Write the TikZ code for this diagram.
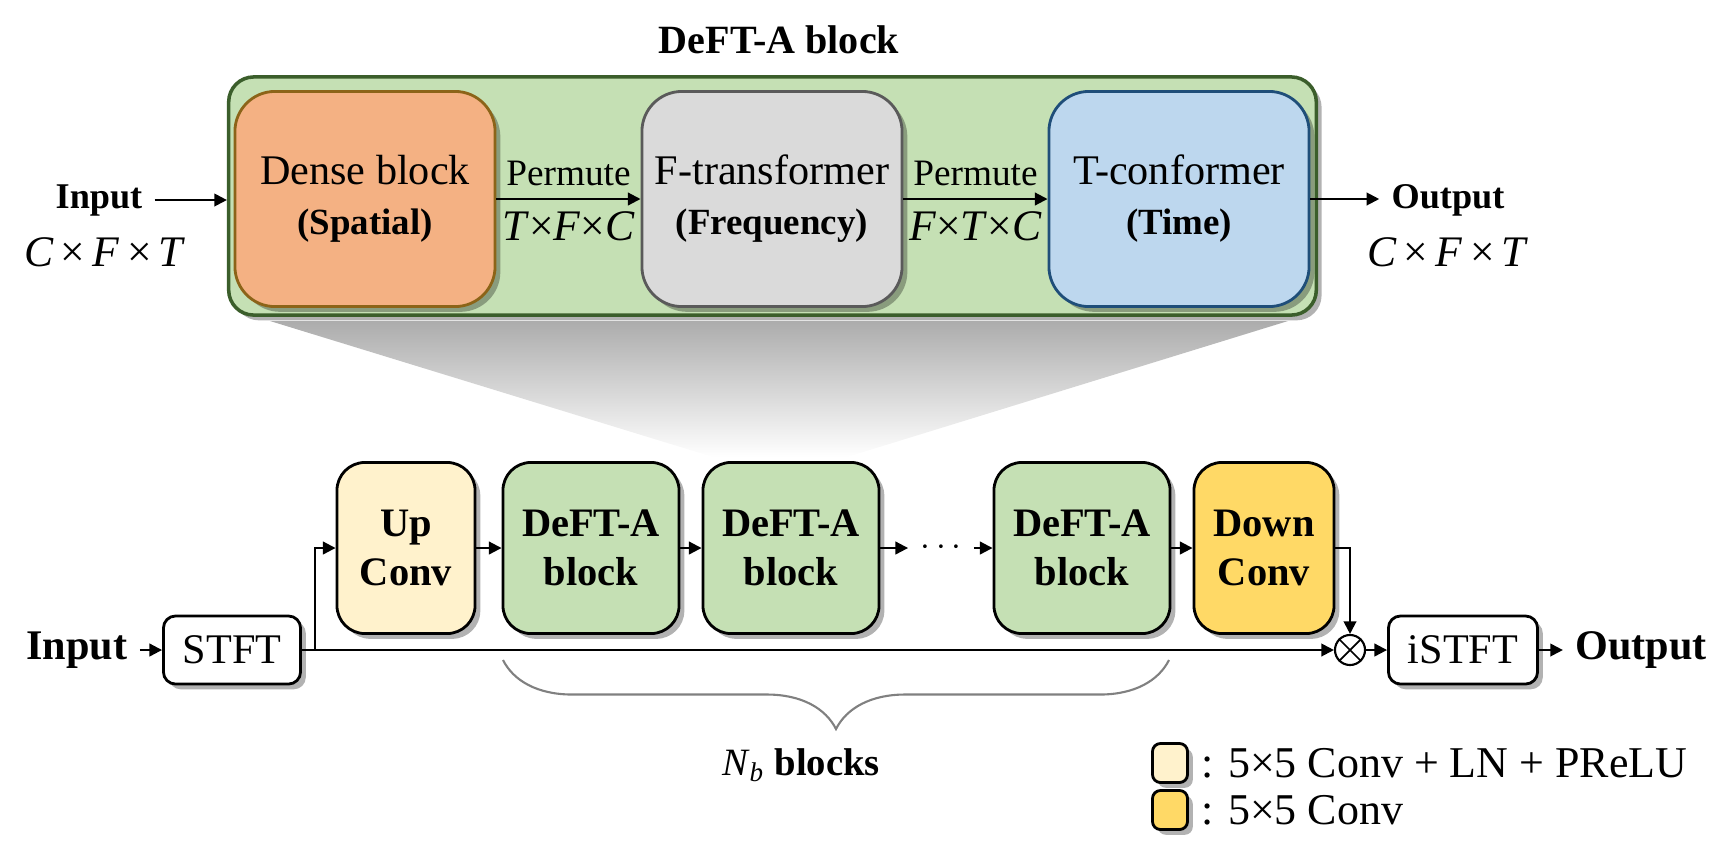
\documentclass[tikz,border=0pt]{standalone}
\usepackage{fontspec}
\setmainfont{Liberation Serif}
\usetikzlibrary{positioning,arrows.meta,shadows,decorations.pathreplacing}

\definecolor{grnfill}{HTML}{C5E0B4}
\definecolor{grnline}{HTML}{3B5E2B}
\definecolor{orgfill}{HTML}{F4B183}
\definecolor{orgline}{HTML}{8C6418}
\definecolor{gryfill}{HTML}{DADADA}
\definecolor{gryline}{HTML}{5A5A5A}
\definecolor{blufill}{HTML}{BDD7EE}
\definecolor{bluline}{HTML}{1F4E79}
\definecolor{upfill}{HTML}{FFF2CC}
\definecolor{downfill}{HTML}{FFD966}

\begin{document}
\begin{tikzpicture}[x=0.01cm,y=-0.01cm,
  arr/.style={-{Triangle[length=3.6pt,width=3.6pt]},line width=0.6pt},
  boxshadow/.style={drop shadow={shadow xshift=1.5pt,shadow yshift=-1.5pt,opacity=0.3,fill=black}},
  topblk/.style={draw,rounded corners=0.4cm,line width=0.8pt,minimum width=2.6cm,minimum height=2.15cm,
    align=center,boxshadow,font=\fontsize{12}{14.2}\selectfont},
  blk/.style={draw=black,rounded corners=0.28cm,line width=0.8pt,fill=grnfill,minimum width=1.76cm,
    minimum height=1.71cm,align=center,boxshadow,font=\bfseries\fontsize{11.5}{14.1}\selectfont},
  ftbox/.style={draw=black,rounded corners=0.12cm,line width=0.8pt,fill=white,minimum width=1.37cm,
    minimum height=0.68cm,boxshadow,font=\fontsize{12}{14}\selectfont},
  lgbox/.style={draw=black,rounded corners=0.08cm,line width=0.8pt,minimum width=0.35cm,
    minimum height=0.39cm,boxshadow},
  lbl/.style={font=\bfseries\fontsize{10.3}{12}\selectfont},
  biglbl/.style={font=\bfseries\fontsize{12}{14}\selectfont},
  dim/.style={font=\fontsize{12.4}{14}\selectfont},
  perm/.style={font=\fontsize{10.6}{12}\selectfont}]
\useasboundingbox (0,0) rectangle (1733,866);
% zoom funnel
\shade[top color=gray!65,bottom color=white] (270,321) -- (1288,321) -- (847,457) -- (713,457) -- cycle;
% DeFT-A block detail
\node[font=\bfseries\fontsize{11.4}{13}\selectfont] (title) at (779,40) {DeFT-A block};
\node[draw=grnline,fill=grnfill,line width=1pt,rounded corners=0.25cm,minimum width=10.87cm,
  minimum height=2.38cm,boxshadow] (deft) at (772.5,196) {};
\node[topblk,fill=orgfill,draw=orgline] (dense) at (365,199)
  {Dense block\\{\bfseries\fontsize{10.5}{14.2}\selectfont (Spatial)}};
\node[topblk,fill=gryfill,draw=gryline] (ftr) at (772,199)
  {F-transformer\\{\bfseries\fontsize{10.5}{14.2}\selectfont (Frequency)}};
\node[topblk,fill=blufill,draw=bluline] (tcf) at (1179,199)
  {T-conformer\\{\bfseries\fontsize{10.5}{14.2}\selectfont (Time)}};
\draw[arr] (dense.east) -- node[above,perm]{Permute} node[below,dim]{\textit{T}×\textit{F}×\textit{C}} (ftr.west);
\draw[arr] (ftr.east) -- node[above,perm]{Permute} node[below,dim]{\textit{F}×\textit{T}×\textit{C}} (tcf.west);
% input / output of the block
\node[lbl] (inp) at (99,200) {Input};
\node[dim] (inpdim) at (105,252) {\textit{C}\,×\,\textit{F}\,×\,\textit{T}};
\node[lbl] (outp) at (1448,200) {Output};
\node[dim] (outdim) at (1448,252) {\textit{C}\,×\,\textit{F}\,×\,\textit{T}};
\draw[arr] (inp.east) -- (inp.east -| deft.west);
\draw[arr] (tcf.east) -- (tcf.east -| outp.west);
% main pipeline
\node[biglbl] (binp) at (77,650) {Input};
\node[ftbox] (stft) at (232,650) {STFT};
\node[blk,fill=upfill,minimum width=1.38cm] (up) at (406,548) {Up\\Conv};
\node[blk] (d1) at (591,548) {DeFT-A\\block};
\node[blk] (d2) at (791,548) {DeFT-A\\block};
\node (dots) at (941,548) {$\cdots$};
\node[blk] (d3) at (1082,548) {DeFT-A\\block};
\node[blk,fill=downfill,minimum width=1.4cm] (down) at (1264,548) {Down\\Conv};
\node[circle,draw,line width=0.6pt,minimum size=0.3cm,inner sep=0pt,fill=white] (mul) at (1350,650) {};
\draw[line width=0.5pt] (mul.north west) -- (mul.south east) (mul.north east) -- (mul.south west);
\node[ftbox,minimum width=1.49cm] (istft) at (1463,650) {iSTFT};
\node[biglbl] (boutp) at (1641,650) {Output};
\coordinate (br) at (315,650);
\draw[arr] (binp) -- (stft);
\draw[arr] (stft.east) -- (mul.west);
\draw[arr] (br) |- (up.west);
\draw[arr] (up) -- (d1);
\draw[arr] (d1) -- (d2);
\draw[arr] (d2) -- (dots);
\draw[arr] (dots) -- (d3);
\draw[arr] (d3) -- (down);
\draw[arr] (down.east) -| (mul.north);
\draw[arr] (mul) -- (istft);
\draw[arr] (istft) -- (boutp);
% brace under the blocks
\coordinate (bl) at (503,660);
\coordinate (brr) at (1169,660);
\draw[gray,line width=0.6pt,decorate,decoration={brace,mirror,amplitude=0.69cm}] (bl) -- (brr);
\node[font=\fontsize{11}{13}\selectfont] (nb) at (801,765) {\textit{N}\textsubscript{\textit{b}} \textbf{blocks}};
% legend
\node[lgbox,fill=upfill] (lg1) at (1170,763) {};
\node[lgbox,fill=downfill] (lg2) at (1170,810) {};
\node[right=0pt of lg1,font=\fontsize{12.5}{14}\selectfont] (lgt1) {: 5×5 Conv + LN + PReLU};
\node[right=0pt of lg2,font=\fontsize{12.5}{14}\selectfont] (lgt2) {: 5×5 Conv};
\end{tikzpicture}
\end{document}
